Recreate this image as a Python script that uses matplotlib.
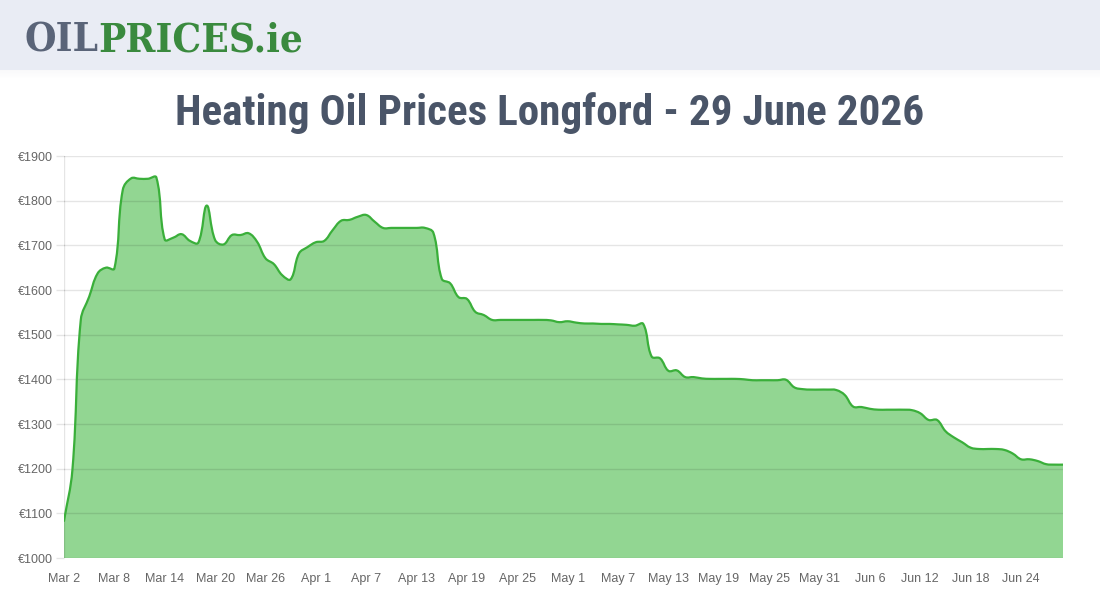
import matplotlib
matplotlib.use("Agg")
import matplotlib.pyplot as plt
from matplotlib.path import Path
from matplotlib.patches import PathPatch, Rectangle
import numpy as np
import datetime as dt

# ---- data ----
start_date = dt.date(2026, 3, 2)
prices = [1083, 1197, 1533, 1585, 1637, 1650, 1648, 1824, 1850, 1849,
          1849, 1852, 1713, 1717, 1725, 1710, 1706, 1789, 1712, 1702,
          1723, 1723, 1727, 1708, 1671, 1658, 1633, 1624, 1682, 1696,
          1707, 1710, 1734, 1755, 1757, 1764, 1768, 1753, 1739, 1739,
          1739, 1739, 1739, 1739, 1728, 1625, 1615, 1584, 1580, 1551,
          1544, 1533, 1533, 1533, 1533, 1533, 1533, 1533, 1532, 1528,
          1530, 1527, 1525, 1525, 1524, 1524, 1523, 1522, 1520, 1524,
          1451, 1447, 1419, 1420, 1405, 1405, 1402, 1401, 1401, 1401,
          1401, 1400, 1398, 1398, 1398, 1398, 1399, 1382, 1378, 1377,
          1377, 1377, 1376, 1365, 1339, 1338, 1334, 1332, 1332, 1332,
          1332, 1331, 1324, 1309, 1309, 1284, 1270, 1259, 1247, 1244,
          1244, 1244, 1242, 1234, 1221, 1221, 1217, 1210, 1209, 1209]
dates = [start_date + dt.timedelta(days=i) for i in range(len(prices))]
labels = [f"{d.strftime('%b')} {d.day}" for d in dates]
y_ticks = [1000, 1100, 1200, 1300, 1400, 1500, 1600, 1700, 1800, 1900]
title = "Heating Oil Prices Longford - 29 June 2026"

# ---- figure ----
W, H = 1100, 600
fig = plt.figure(figsize=(W / 100, H / 100), dpi=100)
fig.patch.set_facecolor("white")

# header band with soft shadow
hdr_h = 70
for i in range(8):
    a = 0.05 * (1 - i / 8)
    fig.add_artist(Rectangle((0, 1 - (hdr_h + i + 1) / H), 1, 1 / H,
                             transform=fig.transFigure, facecolor=(0.55, 0.58, 0.65, a),
                             edgecolor="none"))
fig.add_artist(Rectangle((0, 1 - hdr_h / H), 1, hdr_h / H, transform=fig.transFigure,
                         facecolor="#e9ecf4", edgecolor="none"))

# logo
t1 = fig.text(24 / W, 1 - 52 / H, "OIL", fontsize=29, fontweight="heavy",
              family="DejaVu Serif", fontstretch="condensed", color="#5a6478",
              va="baseline", ha="left")
fig.canvas.draw()
bb = t1.get_window_extent()
fig.text(bb.x1 / W, 1 - 52 / H, "PRICES.ie", fontsize=29, fontweight="heavy",
         family="DejaVu Serif", fontstretch="condensed", color="#3a8a3e",
         va="baseline", ha="left")

# title (scaled so its width matches the reference)
tt = fig.text(550 / W, 1 - 125 / H, title, fontsize=40, fontweight="bold",
              family=["Roboto Condensed", "Open Sans Condensed", "DejaVu Sans"],
              fontstretch="condensed", color="#4a5568", ha="center", va="baseline")
fig.canvas.draw()
wt = tt.get_window_extent().width
tt.set_fontsize(40 * 748 / wt)

# axes
x0, x1, y0, y1 = 64, 1063, 156, 558
ax = fig.add_axes([x0 / W, 1 - y1 / H, (x1 - x0) / W, (y1 - y0) / H])
n = len(prices)
xs = np.arange(n, dtype=float)
ys = np.array(prices, dtype=float)
ax.set_xlim(0, n - 1)
ax.set_ylim(1000, 1900)

# spline path (Chart.js-like tension 0.4) built in pixel space
px_per_x = (x1 - x0) / (n - 1)
px_per_y = (y1 - y0) / 900.0
P = np.column_stack([xs * px_per_x, ys * px_per_y])
t = 0.4
verts = [tuple(P[0])]
codes = [Path.MOVETO]
cps = []
for i in range(n):
    prev = P[i - 1] if i > 0 else P[i]
    nxt = P[i + 1] if i < n - 1 else P[i]
    cur = P[i]
    d01 = np.hypot(*(cur - prev))
    d12 = np.hypot(*(nxt - cur))
    s = d01 + d12
    s01 = d01 / s if s else 0
    s12 = d12 / s if s else 0
    fa, fb = t * s01, t * s12
    cps.append((cur - fa * (nxt - prev), cur + fb * (nxt - prev)))
for i in range(1, n):
    verts += [tuple(cps[i - 1][1]), tuple(cps[i][0]), tuple(P[i])]
    codes += [Path.CURVE4] * 3
verts = np.array(verts)
verts[:, 0] /= px_per_x
verts[:, 1] /= px_per_y
verts[:, 1] = np.clip(verts[:, 1], 1000, 1900)

line_path = Path(verts, codes)
fill_verts = np.vstack([verts, [[n - 1, 1000], [0, 1000], verts[0]]])
fill_codes = codes + [Path.LINETO, Path.LINETO, Path.CLOSEPOLY]
fill_path = Path(fill_verts, fill_codes)

ax.add_patch(PathPatch(fill_path, facecolor="#92d692", edgecolor="none", zorder=1))
ax.add_patch(PathPatch(line_path, facecolor="none", edgecolor="#3aaf3a", lw=1.6,
                       zorder=3, joinstyle="round", capstyle="round"))

# grid
for v in y_ticks:
    ax.axhline(v, color=(0, 0, 0, 0.1), lw=1, zorder=2)
ax.axvline(0, color=(0, 0, 0, 0.1), lw=1, zorder=2)

for sp in ax.spines.values():
    sp.set_visible(False)
ax.set_facecolor("none")
ax.set_yticks(y_ticks)
ax.set_yticklabels([f"€{v}" for v in y_ticks])
tick_idx = list(range(0, n, 6))
ax.set_xticks(tick_idx)
ax.set_xticklabels([labels[i] for i in tick_idx])
ax.tick_params(axis="y", length=6, width=1, color=(0, 0, 0, 0.1), pad=2,
               labelsize=9, labelcolor="#666666")
ax.tick_params(axis="x", length=0, pad=11, labelsize=9, labelcolor="#666666")
for lab in ax.get_xticklabels() + ax.get_yticklabels():
    lab.set_family("Liberation Sans")

fig.savefig("out.png", dpi=100)
